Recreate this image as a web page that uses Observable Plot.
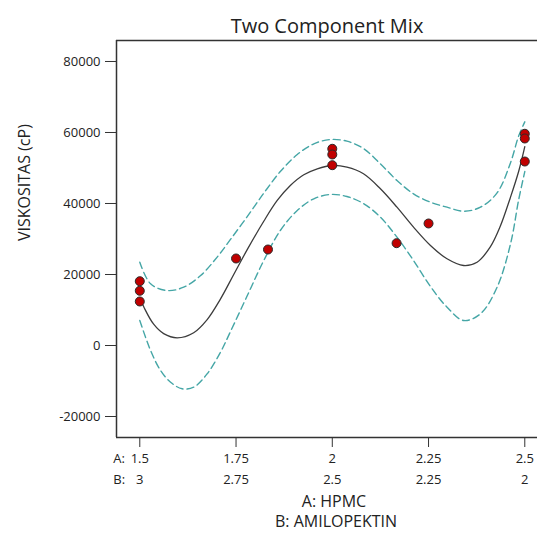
<!DOCTYPE html>
<html><head><meta charset="utf-8">
<script src="https://cdn.jsdelivr.net/npm/d3@7"></script>
<script src="https://cdn.jsdelivr.net/npm/@observablehq/plot@0.6"></script>
<style>html,body{margin:0;padding:0;background:#fff;overflow:hidden}</style>
</head><body><div id="chart"></div><script>
// Fitted model line
const fitX = [1.5, 1.512, 1.536, 1.562, 1.597, 1.64, 1.675, 1.709, 1.744, 1.779, 1.822, 1.857, 1.891, 1.926, 1.961, 2.0, 2.038, 2.081, 2.125, 2.168, 2.211, 2.255, 2.298, 2.341, 2.376, 2.41, 2.436, 2.462, 2.484, 2.5];
const fitY = [13500, 10500, 6000, 3350, 2170, 3600, 7300, 13000, 20000, 27000, 35000, 40850, 45070, 48090, 49780, 50710, 50230, 48370, 44140, 38960, 33330, 28170, 24420, 22540, 23470, 27690, 33500, 41500, 49000, 56000];
// Upper confidence band
const upX = [1.5, 1.528, 1.571, 1.614, 1.658, 1.701, 1.735, 1.779, 1.822, 1.865, 1.909, 1.952, 1.995, 2.038, 2.082, 2.125, 2.168, 2.211, 2.255, 2.298, 2.341, 2.385, 2.428, 2.463, 2.484, 2.5];
const upY = [23470, 17380, 15490, 16420, 19700, 24900, 29800, 36300, 42900, 49000, 53800, 56800, 58030, 57550, 55410, 51180, 46480, 42730, 40370, 38960, 37830, 38960, 43000, 51500, 59000, 63000];
// Lower confidence band
const loX = [1.5, 1.528, 1.554, 1.58, 1.61, 1.64, 1.675, 1.71, 1.735, 1.779, 1.822, 1.865, 1.909, 1.952, 1.995, 2.038, 2.082, 2.125, 2.168, 2.211, 2.255, 2.298, 2.341, 2.385, 2.428, 2.463, 2.484, 2.5];
const loY = [7040, -1410, -7040, -10340, -12200, -11750, -7970, -1800, 3800, 14000, 23940, 32400, 38030, 41330, 42540, 41970, 39920, 36140, 30510, 23940, 16620, 10790, 7040, 8930, 16420, 28650, 41000, 49000];
// Design points
const ptX = [1.5, 1.5, 1.5, 1.75, 1.833, 2, 2, 2, 2.167, 2.25, 2.5, 2.5, 2.5];
const ptY = [18110, 15410, 12400, 24510, 27040, 55410, 53800, 50790, 28820, 34370, 59640, 58310, 51830];
// Axes
const xTicks = [1.5, 1.75, 2, 2.25, 2.5];
const aLabels = ["1.5", "1.75", "2", "2.25", "2.5"];
const bLabels = ["3", "2.75", "2.5", "2.25", "2"];
const yTicks = [-20000, 0, 20000, 40000, 60000, 80000];
const xDomain = [1.4395, 2.533];
const yDomain = [-25915, 85915];

const toRows = (xs, ys) => xs.map((x, i) => ({x, y: ys[i]}));
const fit = toRows(fitX, fitY);
const up = toRows(upX, upY);
const lo = toRows(loX, loY);
const pts = toRows(ptX, ptY);

const FONT = '"Open Sans", sans-serif';
const band = {x: "x", y: "y", stroke: "#45a6a6", strokeWidth: 1.4, strokeDasharray: "7,4", curve: "catmull-rom"};

const chart = Plot.plot({
  width: 537, height: 536,
  marginTop: 40, marginBottom: 99, marginLeft: 116, marginRight: 0,
  style: {fontFamily: FONT, fontSize: "13px", color: "#222", background: "#fff", overflow: "visible"},
  x: {domain: xDomain, axis: null},
  y: {domain: yDomain, axis: null},
  marks: [
    Plot.ruleY(yDomain, {stroke: "#333", strokeWidth: 1.5}),
    Plot.ruleX([xDomain[0]], {stroke: "#333", strokeWidth: 1.5}),
    Plot.axisY(yTicks, {tickSize: 11, tickPadding: 5, tickFormat: d => String(d), label: null, fontSize: 13, stroke: "#333"}),
    Plot.axisX(xTicks, {tickSize: 10, tickFormat: () => "", label: null, stroke: "#333"}),
    Plot.text(xTicks, {x: d => d, text: (d, i) => aLabels[i], frameAnchor: "bottom", dy: 25, fontSize: 13, fill: "#222"}),
    Plot.text(xTicks, {x: d => d, text: (d, i) => bLabels[i], frameAnchor: "bottom", dy: 46, fontSize: 13, fill: "#222"}),
    Plot.text(["A:"], {x: () => xTicks[0], text: d => d, frameAnchor: "bottom", dy: 25, dx: -26.5, textAnchor: "start", fontSize: 13, fill: "#222"}),
    Plot.text(["B:"], {x: () => xTicks[0], text: d => d, frameAnchor: "bottom", dy: 46, dx: -26.5, textAnchor: "start", fontSize: 13, fill: "#222"}),
    Plot.text(["A: HPMC"], {text: d => d, frameAnchor: "bottom", dx: 7, dy: 69.5, fontSize: 16, fill: "#222"}),
    Plot.text(["B: AMILOPEKTIN"], {text: d => d, frameAnchor: "bottom", dx: 9, dy: 89.5, fontSize: 16, fill: "#222"}),
    Plot.text(["Two Component Mix"], {text: d => d, frameAnchor: "top", dy: -22, fontSize: 20, fill: "#222"}),
    Plot.text(["VISKOSITAS (cP)"], {text: d => d, frameAnchor: "left", dx: -92, dy: 2, rotate: -90, fontSize: 16, fill: "#222"}),
    Plot.line(up, band),
    Plot.line(lo, band),
    Plot.line(fit, {x: "x", y: "y", stroke: "#3c3c3c", strokeWidth: 1.3, curve: "catmull-rom"}),
    Plot.dot(pts, {x: "x", y: "y", r: 4.5, fill: "#c00000", stroke: "#2a2a2a", strokeWidth: 1})
  ]
});
document.getElementById("chart").appendChild(chart);
</script></body></html>
